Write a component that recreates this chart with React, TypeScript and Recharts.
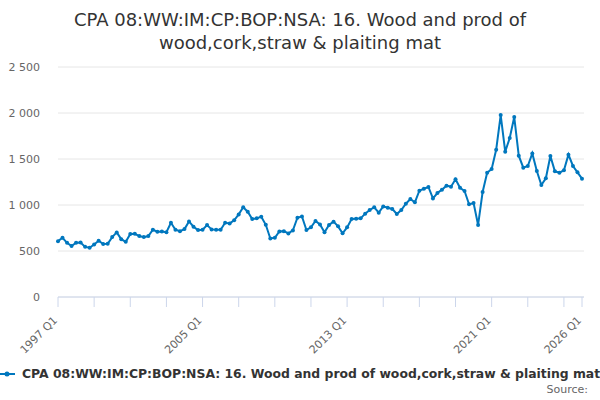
import { CartesianGrid, Line, LineChart, XAxis, YAxis } from "recharts";

const title = "CPA 08:WW:IM:CP:BOP:NSA: 16. Wood and prod of wood,cork,straw & plaiting mat";
const titleLines = ["CPA 08:WW:IM:CP:BOP:NSA: 16. Wood and prod of", "wood,cork,straw & plaiting mat"];

const years = [
  1997, 1998, 1999, 2000, 2001, 2002, 2003, 2004, 2005, 2006, 2007, 2008, 2009, 2010, 2011,
  2012, 2013, 2014, 2015, 2016, 2017, 2018, 2019, 2020, 2021, 2022, 2023, 2024, 2025, 2026,
];
const quarterNames = ["Q1", "Q2", "Q3", "Q4"];

// one row per year, Q1..Q4 (2026 only has Q1)
const imports = [
  607, 644, 589, 553,
  589, 593, 545, 535,
  571, 611, 575, 578,
  651, 702, 629, 600,
  684, 687, 662, 651,
  662, 731, 709, 713,
  705, 807, 731, 716,
  738, 822, 764, 727,
  731, 782, 735, 731,
  731, 807, 800, 833,
  898, 975, 927, 847,
  855, 873, 785, 636,
  644, 713, 716, 691,
  724, 862, 876, 728,
  758, 826, 788, 703,
  783, 819, 768, 692,
  757, 848, 851, 855,
  906, 946, 975, 917,
  985, 971, 957, 902,
  946, 1014, 1065, 1029,
  1156, 1177, 1196, 1072,
  1130, 1167, 1210, 1199,
  1279, 1188, 1152, 1007,
  1022, 783, 1141, 1351,
  1391, 1601, 1978, 1580,
  1728, 1956, 1536, 1406,
  1424, 1561, 1369, 1217,
  1290, 1533, 1366, 1351,
  1377, 1547, 1424, 1355,
  1286,
];

const xTicks = [
  "1997 Q1", "1999 Q1", "2001 Q1", "2003 Q1", "2005 Q1", "2007 Q1", "2009 Q1", "2011 Q1",
  "2013 Q1", "2015 Q1", "2017 Q1", "2019 Q1", "2021 Q1", "2023 Q1", "2025 Q1", "2026 Q1",
];
const xLabels = ["1997 Q1", "2005 Q1", "2013 Q1", "2021 Q1", "2026 Q1"];
const yTicks = [0, 500, 1000, 1500, 2000, 2500];

const quarters = years.flatMap((year) => quarterNames.map((q) => `${year} ${q}`));
const rows = imports.map((value, i) => ({ quarter: quarters[i], value }));

const lineColor = "#0077be";

function formatThousands(value: number) {
  return String(value).replace(/\B(?=(\d{3})+(?!\d))/g, " ");
}

function QuarterTick({ x, y, payload }: any) {
  if (!xLabels.includes(payload.value)) return <g />;
  const tx = x;
  const ty = y + 12;
  return (
    <text x={tx} y={ty} textAnchor="end" fill="#666" fontSize={11} transform={`rotate(-45 ${tx} ${ty})`}>
      {payload.value}
    </text>
  );
}

export default function App() {
  return (
    <div
      style={{
        position: "absolute",
        left: 0,
        top: 0,
        width: 600,
        height: 400,
        background: "#fff",
        fontFamily: "'DejaVu Sans', sans-serif",
        overflow: "hidden",
      }}
    >
      <div
        title={title}
        style={{
          position: "absolute",
          top: 8,
          left: 0,
          width: 600,
          textAlign: "center",
          fontSize: 18,
          lineHeight: "23px",
          color: "#333",
        }}
      >
        {titleLines.map((line) => (
          <div key={line}>{line}</div>
        ))}
      </div>

      <LineChart width={600} height={400} data={rows} margin={{ top: 67, right: 16, bottom: 0, left: 0 }}>
        <CartesianGrid vertical={false} stroke="#e6e6e6" />
        <XAxis
          dataKey="quarter"
          scale="point"
          ticks={xTicks}
          interval={0}
          height={103}
          padding={{ left: 0, right: 2 }}
          tickSize={10}
          axisLine={{ stroke: "#ccd6eb" }}
          tickLine={{ stroke: "#ccd6eb" }}
          tick={<QuarterTick />}
        />
        <YAxis
          width={58}
          domain={[0, 2500]}
          ticks={yTicks}
          tickFormatter={formatThousands}
          axisLine={false}
          tickLine={false}
          tickMargin={12}
          tick={{ fill: "#666", fontSize: 11 }}
        />
        <Line
          type="linear"
          dataKey="value"
          name={title}
          stroke={lineColor}
          strokeWidth={2}
          dot={{ r: 2, fill: lineColor, stroke: lineColor, strokeWidth: 0 }}
          activeDot={false}
          isAnimationActive={false}
        />
      </LineChart>

      <div
        style={{
          position: "absolute",
          top: 366,
          left: -1,
          whiteSpace: "nowrap",
          fontSize: 12.4,
          fontWeight: "bold",
          lineHeight: "16px",
          color: "#333",
          display: "flex",
          alignItems: "center",
        }}
      >
        <svg width={16} height={12} style={{ marginRight: 7 }}>
          <line x1={0} y1={6} x2={16} y2={6} stroke={lineColor} strokeWidth={2} />
          <circle cx={8} cy={6} r={2.5} fill={lineColor} />
        </svg>
        <span>{title}</span>
      </div>

      <div
        style={{
          position: "absolute",
          top: 383,
          right: 12,
          fontSize: 11,
          lineHeight: "14px",
          color: "#666",
        }}
      >
        Source:
      </div>
    </div>
  );
}
